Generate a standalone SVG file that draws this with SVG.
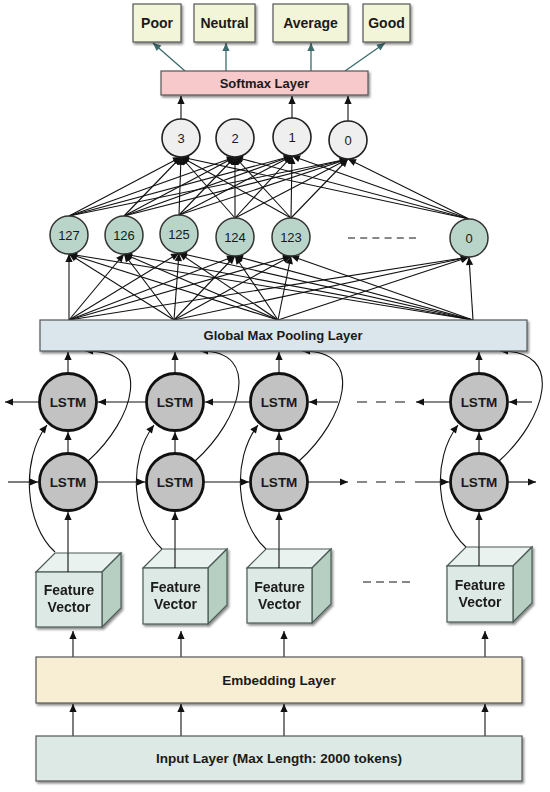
<svg xmlns="http://www.w3.org/2000/svg" width="550" height="792" viewBox="0 0 550 792">
<defs>
<filter id="sh" x="-10%" y="-10%" width="130%" height="140%"><feDropShadow dx="1.5" dy="2" stdDeviation="1" flood-color="#000" flood-opacity="0.45"/></filter>
<marker id="ah" viewBox="0 0 10 10" refX="10" refY="5" markerWidth="9" markerHeight="8" markerUnits="userSpaceOnUse" orient="auto"><path d="M0,0.5 L10,5 L0,9.5 z" fill="#111"/></marker>
<marker id="at" viewBox="0 0 10 10" refX="10" refY="5" markerWidth="9" markerHeight="8" markerUnits="userSpaceOnUse" orient="auto"><path d="M0,0.5 L10,5 L0,9.5 z" fill="#3d6b6b"/></marker>
</defs>
<style>
.lb{font-family:"Liberation Sans",Arial,sans-serif;font-weight:bold;fill:#1a1a1a;text-anchor:middle}
.nm{font-family:"Liberation Sans",Arial,sans-serif;fill:#1a1a1a;text-anchor:middle;font-size:13px}
.c{fill:none;stroke:#111;stroke-width:1.1;marker-end:url(#ah)}
.ct{fill:none;stroke:#3d6b6b;stroke-width:1.3;marker-end:url(#at)}
.cn{fill:none;stroke:#111;stroke-width:1.1}
.ds{fill:none;stroke:#111;stroke-width:1.1;stroke-dasharray:10 9}
.dh{fill:none;stroke:#111;stroke-width:1.1;stroke-dasharray:7 5.2}
.df{fill:none;stroke:#111;stroke-width:1.1;stroke-dasharray:8 5}
.out{fill:#f3f5d8;stroke:#555;stroke-width:1.2;filter:url(#sh)}
.tc{fill:#efefef;stroke:#222;stroke-width:1.6}
.hc{fill:#b9d5c9;stroke:#333;stroke-width:1.5}
.ls{fill:#c2c2c2;stroke:#111;stroke-width:2.8}
.ff{fill:#dde9e4;stroke:#4a5a55;stroke-width:1.2}
.ft{fill:#e9f2ee;stroke:#4a5a55;stroke-width:1.2}
.fs{fill:#b7cfc3;stroke:#4a5a55;stroke-width:1.2}
</style>

<g id="connectors">
<path class="ct" d="M185,71 L153,43"/>
<path class="ct" d="M226,71 L226,43"/>
<path class="ct" d="M311,71 L311,43"/>
<path class="ct" d="M345,71 L385,43"/>
<path class="c" d="M181,119 L181,96"/>
<path class="c" d="M292,118 L292,96"/>
<path class="c" d="M348,121 L348,96"/>
<path class="c" d="M69,216 L181,157"/><path class="c" d="M69,216 L235,157"/><path class="c" d="M69,216 L292,156"/><path class="c" d="M69,216 L348,159"/>
<path class="c" d="M124,216 L181,157"/><path class="c" d="M124,216 L235,157"/><path class="c" d="M124,216 L292,156"/><path class="c" d="M124,216 L348,159"/>
<path class="c" d="M179,215 L181,157"/><path class="c" d="M179,215 L235,157"/><path class="c" d="M179,215 L292,156"/><path class="c" d="M179,215 L348,159"/>
<path class="c" d="M235,218 L181,157"/><path class="c" d="M235,218 L235,157"/><path class="c" d="M235,218 L292,156"/><path class="c" d="M235,218 L348,159"/>
<path class="c" d="M291,218 L181,157"/><path class="c" d="M291,218 L235,157"/><path class="c" d="M291,218 L292,156"/><path class="c" d="M291,218 L348,159"/>
<path class="c" d="M469,219 L181,157"/><path class="c" d="M469,219 L235,157"/><path class="c" d="M469,219 L292,156"/><path class="c" d="M469,219 L348,159"/>
<path class="c" d="M69,320 L69,254"/><path class="c" d="M69,320 L124,254"/><path class="c" d="M69,320 L179,253"/><path class="c" d="M69,320 L235,256"/><path class="c" d="M69,320 L291,256"/><path class="c" d="M69,320 L469,257"/>
<path class="c" d="M174,320 L69,254"/><path class="c" d="M174,320 L124,254"/><path class="c" d="M174,320 L179,253"/><path class="c" d="M174,320 L235,256"/><path class="c" d="M174,320 L291,256"/><path class="c" d="M174,320 L469,257"/>
<path class="c" d="M278,320 L69,254"/><path class="c" d="M278,320 L124,254"/><path class="c" d="M278,320 L179,253"/><path class="c" d="M278,320 L235,256"/><path class="c" d="M278,320 L291,256"/><path class="c" d="M278,320 L469,257"/>
<path class="c" d="M473,320 L69,254"/><path class="c" d="M473,320 L124,254"/><path class="c" d="M473,320 L179,253"/><path class="c" d="M473,320 L235,256"/><path class="c" d="M473,320 L291,256"/><path class="c" d="M473,320 L469,257"/>
<path class="dh" d="M348,238 L416,238"/>
<path class="c" d="M68,373 L68,352"/><path class="c" d="M175,373 L175,352"/><path class="c" d="M279,373 L279,352"/><path class="c" d="M479,373 L479,352"/>
<path class="c" d="M68,453 L68,432"/><path class="c" d="M175,453 L175,432"/><path class="c" d="M279,453 L279,432"/><path class="c" d="M479,453 L479,432"/>
<path class="c" d="M88,461 C134,420 156,350 85,351"/>
<path class="c" d="M195,461 C241,420 263,350 200,351"/>
<path class="c" d="M299,461 C345,420 367,350 302,351"/>
<path class="c" d="M499,461 C545,420 567,350 500,351"/>
<path class="c" d="M55,552 C25,525 20,460 47,425"/>
<path class="c" d="M162,549 C132,522 127,460 154,425"/>
<path class="c" d="M266,549 C236,522 231,460 258,425"/>
<path class="c" d="M466,547 C436,520 431,460 458,425"/>
<path class="c" d="M39,402 L5,402"/>
<path class="c" d="M146,402 L98,402"/>
<path class="c" d="M250,402 L205,402"/>
<path class="c" d="M338,402 L309,402"/>
<path class="ds" d="M357,402 L405,402"/>
<path class="c" d="M450,402 L416,402"/>
<path class="c" d="M532,402 L509,402"/>
<path class="c" d="M8,482 L38,482"/>
<path class="c" d="M97,482 L145,482"/>
<path class="c" d="M204,482 L249,482"/>
<path class="c" d="M308,482 L348,482"/>
<path class="ds" d="M357,482 L405,482"/>
<path class="c" d="M415,482 L449,482"/>
<path class="c" d="M508,482 L536,482"/>
<path class="c" d="M68,572 L68,512"/>
<path class="c" d="M175,568 L175,512"/>
<path class="c" d="M279,568 L279,512"/>
<path class="c" d="M479,566 L479,512"/>
<path class="df" d="M363,582 L410,582"/>
<path class="c" d="M73,657 L73,631"/><path class="c" d="M181,657 L181,631"/><path class="c" d="M284,657 L284,631"/><path class="c" d="M485,657 L485,631"/>
<path class="c" d="M73,736 L73,704"/><path class="c" d="M181,736 L181,704"/><path class="c" d="M284,736 L284,704"/><path class="c" d="M485,736 L485,704"/>
</g>

<g id="out-poor"><rect class="out" x="133" y="4" width="48" height="38"/><text class="lb" x="157" y="28" font-size="14">Poor</text></g>
<g id="out-neutral"><rect class="out" x="194" y="4" width="61" height="38"/><text class="lb" x="224.5" y="28" font-size="14">Neutral</text></g>
<g id="out-average"><rect class="out" x="273" y="4" width="75" height="38"/><text class="lb" x="310.5" y="28" font-size="14">Average</text></g>
<g id="out-good"><rect class="out" x="363" y="4" width="47" height="38"/><text class="lb" x="386.5" y="28" font-size="14">Good</text></g>

<g id="softmax"><rect x="161" y="71" width="207" height="24" fill="#f7c9cb" stroke="#555" stroke-width="1.2" filter="url(#sh)"/><text class="lb" x="264.5" y="87.5" font-size="13">Softmax Layer</text></g>

<g id="o3"><circle class="tc" cx="181" cy="138" r="19"/><text class="nm" x="181" y="143" font-size="14">3</text></g>
<g id="o2"><circle class="tc" cx="235" cy="138" r="19"/><text class="nm" x="235" y="143" font-size="14">2</text></g>
<g id="o1"><circle class="tc" cx="292" cy="137" r="19"/><text class="nm" x="292" y="142" font-size="14">1</text></g>
<g id="o0"><circle class="tc" cx="348" cy="140" r="19"/><text class="nm" x="348" y="145" font-size="14">0</text></g>

<g id="h127"><circle class="hc" cx="69" cy="235" r="19"/><text class="nm" x="69" y="240">127</text></g>
<g id="h126"><circle class="hc" cx="124" cy="235" r="19"/><text class="nm" x="124" y="240">126</text></g>
<g id="h125"><circle class="hc" cx="179" cy="234" r="19"/><text class="nm" x="179" y="239">125</text></g>
<g id="h124"><circle class="hc" cx="235" cy="237" r="19"/><text class="nm" x="235" y="242">124</text></g>
<g id="h123"><circle class="hc" cx="291" cy="237" r="19"/><text class="nm" x="291" y="242">123</text></g>
<g id="h0"><circle class="hc" cx="469" cy="238" r="19"/><text class="nm" x="469" y="243">0</text></g>

<g id="pooling"><rect x="40" y="320" width="487" height="31" fill="#dae6eb" stroke="#555" stroke-width="1.2" filter="url(#sh)"/><text class="lb" x="283" y="340" font-size="13">Global Max Pooling Layer</text></g>

<g id="lstm-t1"><circle class="ls" cx="68" cy="402" r="28.5"/><text class="lb" x="68" y="407" font-size="13.5">LSTM</text></g>
<g id="lstm-t2"><circle class="ls" cx="175" cy="402" r="28.5"/><text class="lb" x="175" y="407" font-size="13.5">LSTM</text></g>
<g id="lstm-t3"><circle class="ls" cx="279" cy="402" r="28.5"/><text class="lb" x="279" y="407" font-size="13.5">LSTM</text></g>
<g id="lstm-t4"><circle class="ls" cx="479" cy="402" r="28.5"/><text class="lb" x="479" y="407" font-size="13.5">LSTM</text></g>
<g id="lstm-b1"><circle class="ls" cx="68" cy="482" r="28.5"/><text class="lb" x="68" y="487" font-size="13.5">LSTM</text></g>
<g id="lstm-b2"><circle class="ls" cx="175" cy="482" r="28.5"/><text class="lb" x="175" y="487" font-size="13.5">LSTM</text></g>
<g id="lstm-b3"><circle class="ls" cx="279" cy="482" r="28.5"/><text class="lb" x="279" y="487" font-size="13.5">LSTM</text></g>
<g id="lstm-b4"><circle class="ls" cx="479" cy="482" r="28.5"/><text class="lb" x="479" y="487" font-size="13.5">LSTM</text></g>

<g id="fv1" filter="url(#sh)">
<polygon class="ft" points="36,572 55,553 121,553 102,572"/>
<polygon class="fs" points="102,572 121,553 121,608 102,627"/>
<rect class="ff" x="36" y="572" width="66" height="55"/>
<path class="cn" d="M68,572 L68,553"/>
<text class="lb" x="69" y="595" font-size="14">Feature</text><text class="lb" x="69" y="612" font-size="14">Vector</text>
</g>
<g id="fv2" filter="url(#sh)">
<polygon class="ft" points="143,568 162,549 227,549 208,568"/>
<polygon class="fs" points="208,568 227,549 227,605 208,624"/>
<rect class="ff" x="143" y="568" width="65" height="56"/>
<path class="cn" d="M175,568 L175,549"/>
<text class="lb" x="175.5" y="592" font-size="14">Feature</text><text class="lb" x="175.5" y="609" font-size="14">Vector</text>
</g>
<g id="fv3" filter="url(#sh)">
<polygon class="ft" points="247,568 266,549 331,549 312,568"/>
<polygon class="fs" points="312,568 331,549 331,604 312,623"/>
<rect class="ff" x="247" y="568" width="65" height="55"/>
<path class="cn" d="M279,568 L279,549"/>
<text class="lb" x="279.5" y="592" font-size="14">Feature</text><text class="lb" x="279.5" y="609" font-size="14">Vector</text>
</g>
<g id="fv4" filter="url(#sh)">
<polygon class="ft" points="447,566 466,547 532,547 513,566"/>
<polygon class="fs" points="513,566 532,547 532,603 513,622"/>
<rect class="ff" x="447" y="566" width="66" height="56"/>
<path class="cn" d="M479,566 L479,547"/>
<text class="lb" x="480" y="590" font-size="14">Feature</text><text class="lb" x="480" y="607" font-size="14">Vector</text>
</g>

<g id="embedding"><rect x="36" y="657" width="486" height="46" fill="#f8eed4" stroke="#555" stroke-width="1.2" filter="url(#sh)"/><text class="lb" x="279" y="685" font-size="13.5">Embedding Layer</text></g>
<g id="input"><rect x="36" y="736" width="486" height="45" fill="#dde9e4" stroke="#555" stroke-width="1.2" filter="url(#sh)"/><text class="lb" x="279" y="763" font-size="13.5">Input Layer (Max Length: 2000 tokens)</text></g>
</svg>
